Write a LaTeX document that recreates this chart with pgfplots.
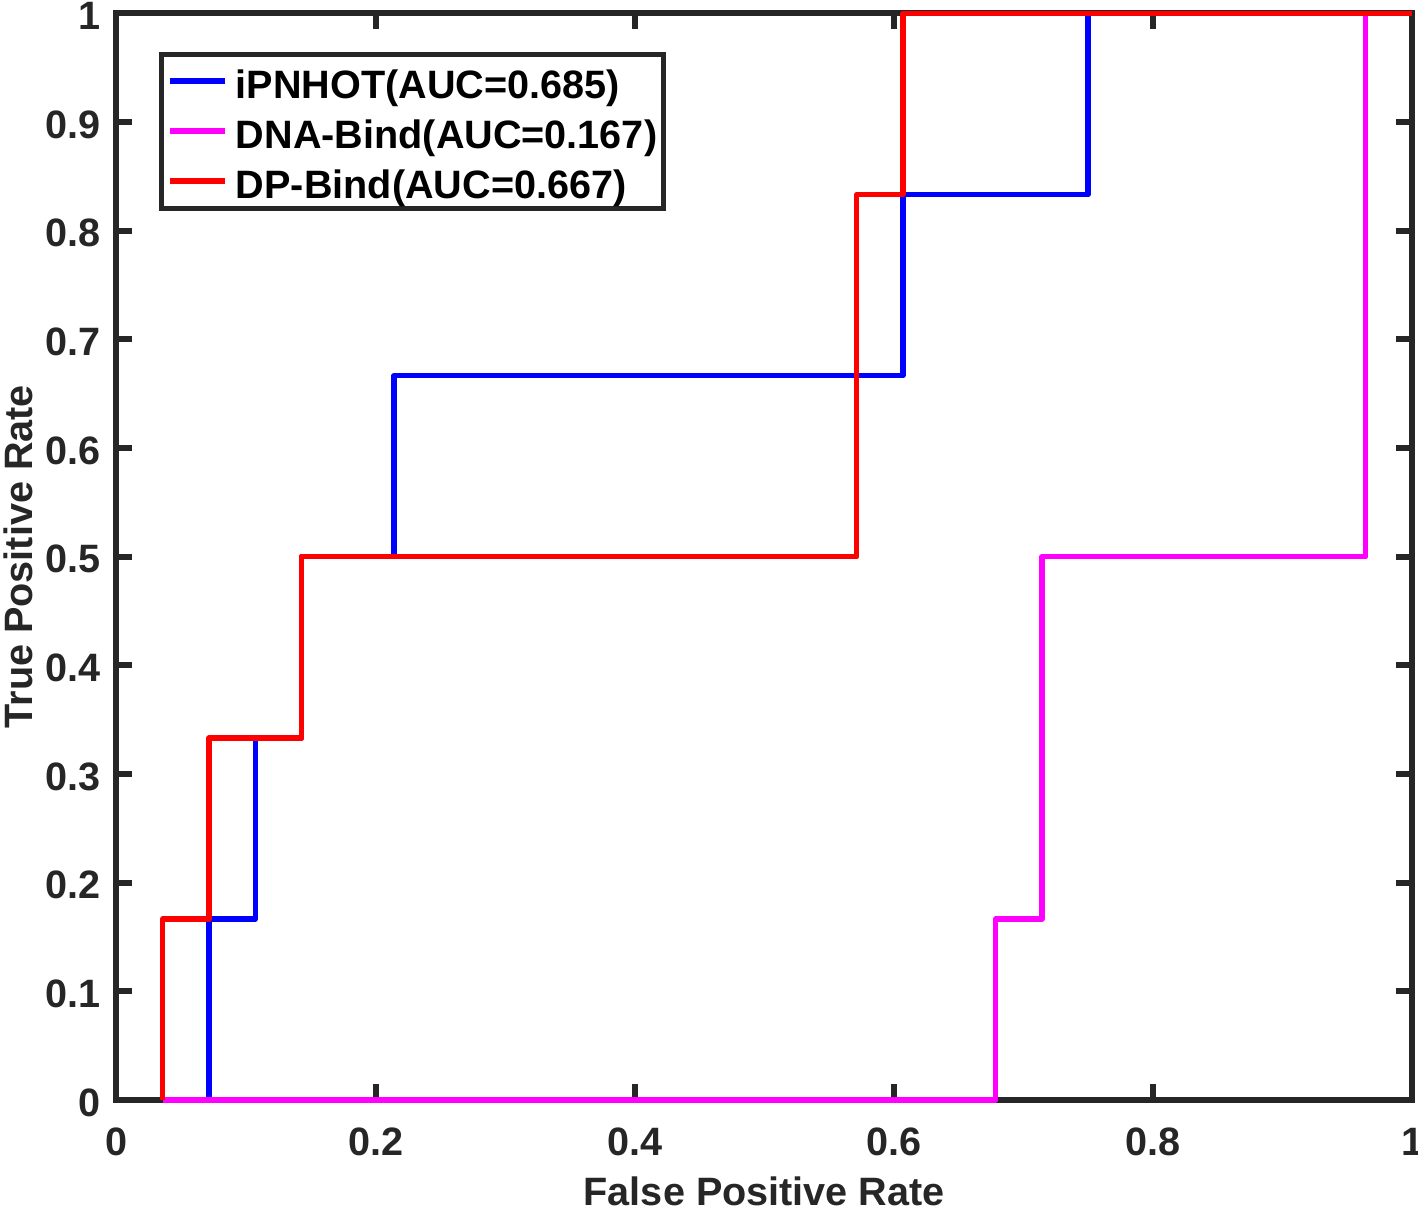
\documentclass[border=0pt]{standalone}
\usepackage{fontspec}
\setmainfont{Liberation Sans}
\usepackage{pgfplots}
\pgfplotsset{compat=1.18}
\definecolor{axgray}{RGB}{38,38,38}
\definecolor{rocblue}{RGB}{0,0,255}
\definecolor{rocmag}{RGB}{255,0,255}
\definecolor{rocred}{RGB}{255,0,0}

\begin{document}
\begin{tikzpicture}
\begin{axis}[
    scale only axis,
    width=647.75pt, height=543.25pt,
    xmin=0, xmax=1, ymin=0, ymax=1,
    xtick={0,0.2,0.4,0.6,0.8,1},
    ytick={0,0.1,0.2,0.3,0.4,0.5,0.6,0.7,0.8,0.9,1},
    tick align=inside,
    major tick length=8pt,
    axis line style={axgray, line width=3pt},
    every tick/.style={axgray, line width=3pt},
    font=\fontsize{19.8}{23}\selectfont\bfseries,
    ticklabel style={text=axgray},
    label style={text=axgray},
    xticklabel style={anchor=base, yshift=-27.5pt},
    yticklabel style={anchor=east, inner xsep=0pt, xshift=-8pt, yshift=-1.2pt},
    /pgf/number format/assume math mode=true,
    xlabel={False Positive Rate},
    ylabel={True Positive Rate},
    xlabel style={at={([yshift=-52.5pt]axis description cs:0.5,0)}, anchor=base},
    ylabel style={at={([xshift=-41.75pt]axis description cs:0,0.5)}, anchor=base, rotate=0},
    clip=false,
    legend cell align=left,
    legend style={
        at={(0.0328,0.965)}, anchor=north west,
        draw=axgray, line width=2.5pt,
        font=\fontsize{19.8}{23}\selectfont\bfseries,
        inner xsep=3pt, inner ysep=3pt,
        nodes={inner sep=0pt, text height=19.45pt, text depth=1.55pt},
        row sep=4pt, column sep=4pt,
    },
    legend image code/.code={\draw[line width=2.7pt] (0pt,0pt) -- (27.5pt,0pt);},
    every axis plot/.append style={line width=2.7pt, line join=round},
]

% iPNHOT
\addplot[color=rocblue] coordinates {
    (0.0714,0) (0.0714,0.1667) (0.1071,0.1667) (0.1071,0.3333)
    (0.1429,0.3333) (0.1429,0.5) (0.2143,0.5) (0.2143,0.6667)
    (0.6071,0.6667) (0.6071,0.8333) (0.75,0.8333) (0.75,1) (1,1)
};
\addlegendentry{iPNHOT(AUC=0.685)}

% DNA-Bind
\addplot[color=rocmag] coordinates {
    (0.0357,0) (0.6786,0) (0.6786,0.1667) (0.7143,0.1667) (0.7143,0.5)
    (0.9643,0.5) (0.9643,1) (1,1)
};
\addlegendentry{DNA-Bind(AUC=0.167)}

% DP-Bind
\addplot[color=rocred] coordinates {
    (0.0357,0) (0.0357,0.1667) (0.0714,0.1667) (0.0714,0.3333)
    (0.1429,0.3333) (0.1429,0.5) (0.5714,0.5) (0.5714,0.8333)
    (0.6071,0.8333) (0.6071,1) (1,1)
};
\addlegendentry{DP-Bind(AUC=0.667)}

\end{axis}
% page edges as in the reference (tick label "1" sits at the right edge)
\pgfresetboundingbox
\useasboundingbox ([xshift=-58.25pt,yshift=-55.5pt]current axis.south west)
    rectangle ([xshift=3pt,yshift=6.75pt]current axis.north east);
\end{tikzpicture}
\end{document}
